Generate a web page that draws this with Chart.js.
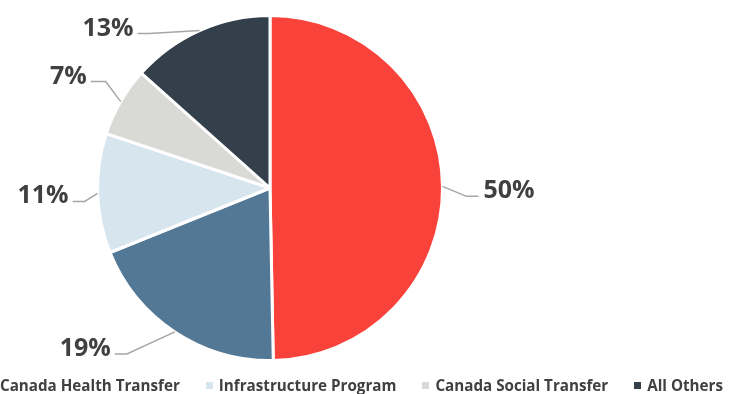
<!DOCTYPE html>
<html>
<head>
<meta charset="utf-8">
<script src="https://cdn.jsdelivr.net/npm/chart.js@4.4.0/dist/chart.umd.min.js"></script>
<style>
  html, body { margin: 0; padding: 0; background: #fff; overflow: hidden; }
  #wrap { position: relative; width: 730px; height: 394px; }
  #legend {
    position: absolute; left: -13px; top: 375px;
    display: flex; white-space: nowrap;
    font: bold 15.2px "Open Sans", sans-serif; color: #404040;
  }
  #legend .item { display: flex; align-items: center; margin-right: 26px; }
  #legend .box { width: 7px; height: 7px; margin-right: 6px; }
</style>
</head>
<body>
<div id="wrap">
  <canvas id="chart" width="730" height="394"></canvas>
  <div id="legend"></div>
</div>
<script>
// share of transfers, clockwise from 12 o'clock
const categories = ["Canada Health Transfer", "Equalization", "Infrastructure Program", "Canada Social Transfer", "All Others"];
const shares = [49.7, 19.2, 11.2, 6.5, 13.4];
const colors = ["#F9423A", "#527896", "#D7E5EF", "#D9D9D6", "#333F4B"];
const legendShown = [true, false, true, true, true];

// leader line: [elbow dx, elbow dy, tail length] from the slice edge
const leaders = [[24, 10, 12], [-48, 22, -12], [-13, 8, -12], [-15, -20, -15], [-50, 3, -12]];

const calloutPlugin = {
  id: "callouts",
  afterDatasetsDraw(chart) {
    const ctx = chart.ctx;
    const meta = chart.getDatasetMeta(0);
    meta.data.forEach((arc, i) => {
      const p = arc.getProps(["x", "y", "startAngle", "endAngle", "outerRadius"], true);
      const mid = (p.startAngle + p.endAngle) / 2;
      const ax = p.x + Math.cos(mid) * p.outerRadius;
      const ay = p.y + Math.sin(mid) * p.outerRadius;
      const [dx, dy, tail] = leaders[i];
      const ex = ax + dx, ey = ay + dy;
      const tx = ex + tail;
      ctx.save();
      ctx.strokeStyle = "#A6A6A6";
      ctx.lineWidth = 1.5;
      ctx.beginPath();
      ctx.moveTo(ax, ay);
      ctx.lineTo(ex, ey);
      ctx.lineTo(tx, ey);
      ctx.stroke();
      ctx.fillStyle = "#404040";
      ctx.font = "bold 25px 'Open Sans'";
      ctx.textBaseline = "alphabetic";
      const txt = Math.round(shares[i]) + "%";
      if (tail > 0) {
        ctx.textAlign = "left";
        ctx.fillText(txt, tx + 5, ey + 2);
      } else {
        ctx.textAlign = "right";
        ctx.fillText(txt, tx - 4, ey + 2);
      }
      ctx.restore();
    });
  }
};

new Chart(document.getElementById("chart"), {
  type: "pie",
  data: {
    labels: categories,
    datasets: [{
      data: shares,
      backgroundColor: colors,
      borderColor: "#fff",
      borderWidth: 3
    }]
  },
  options: {
    responsive: false,
    animation: false,
    layout: { padding: { left: 96, top: 14, right: 286, bottom: 32 } },
    plugins: {
      legend: { display: false },
      tooltip: { enabled: false }
    }
  },
  plugins: [calloutPlugin]
});

const legend = document.getElementById("legend");
categories.forEach((name, i) => {
  if (!legendShown[i]) return;
  const item = document.createElement("div");
  item.className = "item";
  item.innerHTML = '<span class="box" style="background:' + colors[i] + '"></span><span>' + name + "</span>";
  legend.appendChild(item);
});
</script>
</body>
</html>
